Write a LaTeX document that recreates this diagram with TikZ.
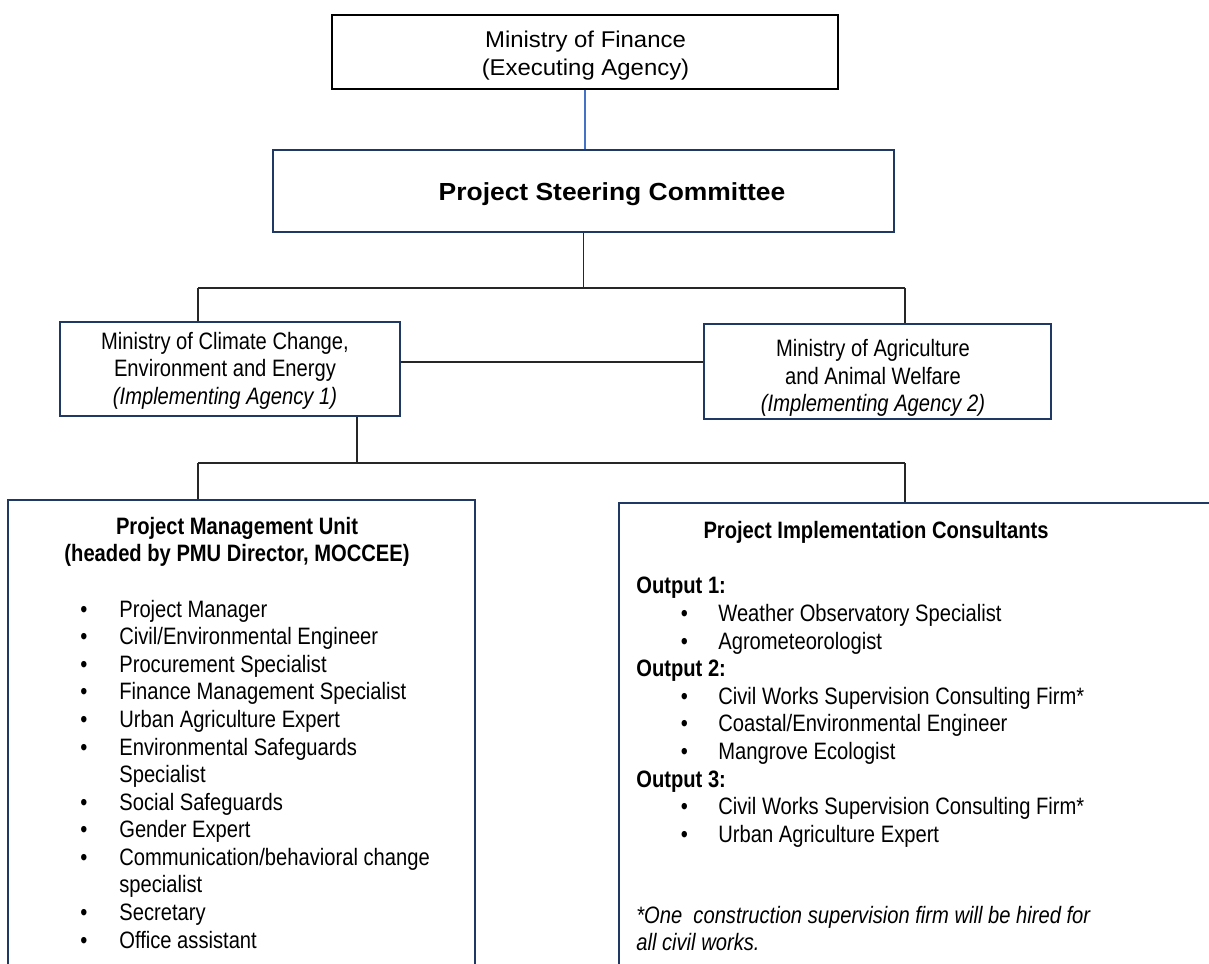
\documentclass[tikz,border=0pt]{standalone}
\usepackage{fontspec}
\setmainfont{Liberation Sans}[FakeStretch=0.85]
\newfontfamily\widefont{Liberation Sans}[FakeStretch=1.05]
\newfontfamily\pscfont{Liberation Sans}[FakeStretch=1.07]

\definecolor{navy}{RGB}{31,56,100}
\definecolor{linkblue}{RGB}{68,114,196}
\newcommand\basesize{\fontsize{13.5pt}{15.7pt}\selectfont}

\begin{document}
\begin{tikzpicture}[x=0.02cm, y=-0.02cm,
  every node/.style={inner sep=0pt, font=\basesize},
  unitbox/.style={draw=navy, line width=1.4pt, rectangle},
  topbox/.style={draw=black, line width=0.95pt, rectangle},
  wire/.style={draw=black!85, line width=0.6pt},
  itemtxt/.style={anchor=base west},
  headtxt/.style={anchor=base west, font=\basesize\bfseries}]

\path[use as bounding box, clip] (0,0) rectangle (1209,963);
\fill[white] (0,0) rectangle (1209,963);

% boxes
\node[topbox, minimum width=10.12cm, minimum height=1.48cm] (mof) at (585,52) {};
\node[unitbox, minimum width=12.42cm, minimum height=1.64cm] (psc) at (583.5,191) {};
\node[unitbox, minimum width=6.8cm, minimum height=1.88cm] (mcc) at (230,369) {};
\node[unitbox, minimum width=6.94cm, minimum height=1.9cm] (maa) at (877.5,371.5) {};
\node[unitbox, minimum width=9.34cm, minimum height=10cm] (pmu) at (241.5,750) {};
\node[unitbox, minimum width=12.82cm, minimum height=10cm] (pic) at (939.5,753) {};

% box texts
\node[align=center, font=\widefont\fontsize{12.97pt}{15.76pt}\selectfont] (mof-t) at (585.5,55.3) {Ministry of Finance\\(Executing Agency)};
\node[anchor=base, font=\pscfont\bfseries\fontsize{14.06pt}{18pt}\selectfont] (psc-t) at (612,200) {Project Steering Committee};
\node[align=center] (mcc-t) at (225,370.8) {Ministry of Climate Change,\\Environment and Energy\\\textit{(Implementing Agency 1)}};
\node[align=center] (maa-t) at (873,377.9) {Ministry of Agriculture\\and Animal Welfare\\\textit{(Implementing Agency 2)}};
\node[align=center, font=\basesize\bfseries] (pmu-t) at (237,541.7) {Project Management Unit\\(headed by PMU Director, MOCCEE)};
\node[anchor=base, font=\basesize\bfseries] (pic-t) at (876,538.8) {Project Implementation Consultants};

% connectors
\draw[draw=linkblue, line width=0.6pt] (mof.south) -- (mof.south |- psc.north);
\coordinate (upl) at (198,288);
\coordinate (upr) at (905,288);
\draw[wire] (psc.south) -- (psc.south |- upl);
\draw[wire] (upl) -- (upr);
\draw[wire] (upl) -- (upl |- mcc.north);
\draw[wire] (upr) -- (upr |- maa.north);
\coordinate (side) at (400,362);
\draw[wire] (side -| mcc.east) -- (side -| maa.west);
\coordinate (drop) at (357,463);
\coordinate (lowl) at (198,463);
\coordinate (lowr) at (905,463);
\draw[wire] (drop |- mcc.south) -- (drop);
\draw[wire] (lowl) -- (lowr);
\draw[wire] (lowl) -- (lowl |- pmu.north);
\draw[wire] (lowr) -- (lowr |- pic.north);

% PMU staff
\foreach \txt [count=\i from 0] in {Project Manager, {Civil/Environmental Engineer}, Procurement Specialist,
    Finance Management Specialist, Urban Agriculture Expert, Environmental Safeguards, Specialist,
    Social Safeguards, Gender Expert, {Communication/behavioral change}, specialist, Secretary, Office assistant}
  \node[itemtxt] (pmu-i\i) at (119,617.3+27.56*\i) {\txt};
\foreach \i in {0,1,2,3,4,5,7,8,9,11,12}
  \node[itemtxt] (pmu-b\i) at (80,617.3+27.56*\i) {•};

% consultants
\foreach \i/\n in {0/1, 3/2, 7/3}
  \node[headtxt] (pic-h\n) at (636,593.8+27.6*\i) {Output \n:};
\foreach \i/\txt in {1/Weather Observatory Specialist, 2/Agrometeorologist,
    4/Civil Works Supervision Consulting Firm*, 5/{Coastal/Environmental Engineer}, 6/Mangrove Ecologist,
    8/Civil Works Supervision Consulting Firm*, 9/Urban Agriculture Expert}{
  \node[itemtxt] (pic-b\i) at (680.5,593.8+27.6*\i) {•};
  \node[itemtxt] (pic-i\i) at (718,593.8+27.6*\i) {\txt};
}
\node[itemtxt, font=\basesize\itshape] (note1) at (636,923.8) {*One\ \ construction supervision firm will be hired for};
\node[itemtxt, font=\basesize\itshape] (note2) at (636,950.8) {all civil works.};
\end{tikzpicture}
\end{document}
